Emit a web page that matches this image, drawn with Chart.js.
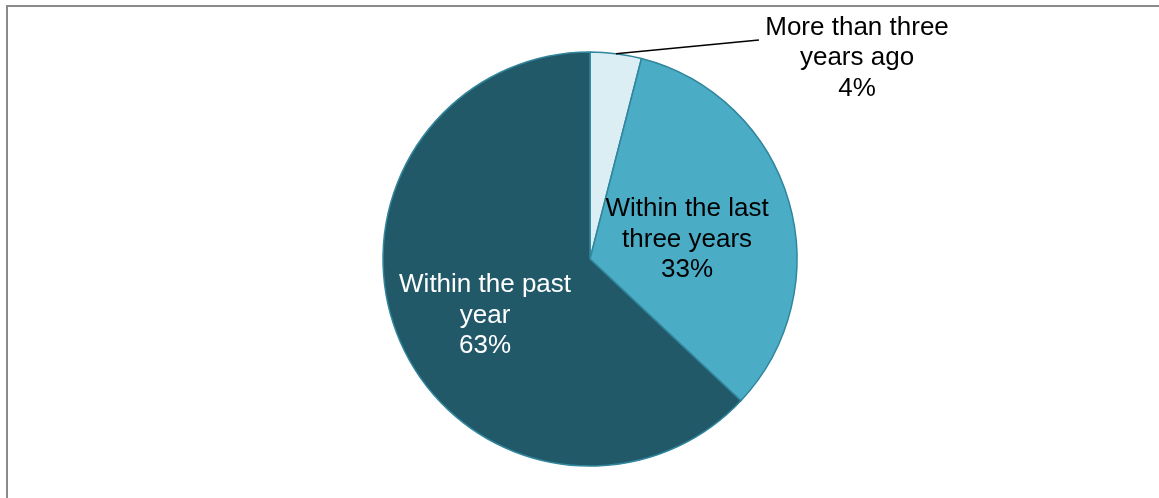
<!DOCTYPE html>
<html>
<head>
<meta charset="utf-8">
<title>When last visited</title>
<script src="https://cdn.jsdelivr.net/npm/chart.js@4/dist/chart.umd.min.js"></script>
<style>
  html, body { margin: 0; padding: 0; background: #fff; overflow: hidden; }
  canvas { display: block; }
</style>
</head>
<body>
<canvas id="pie" width="1159" height="498"></canvas>
<script>
// slices, clockwise from 12 o'clock
const categories = ["More than three years ago", "Within the last three years", "Within the past year"];
const percents = [4, 33, 63];
const labelLines = [
  ["More than three", "years ago"],
  ["Within the last", "three years"],
  ["Within the past", "year"]
];
const sliceColors = ["#DBEEF4", "#4BACC6", "#215968"];
const textColors = ["#000000", "#000000", "#FFFFFF"];
// label anchor (middle line baseline) as a fraction of the radius from the centre
const labelOffsets = [[1.29, -0.937], [0.469, -0.058], [-0.507, 0.309]];

// thin grey frame along top and left
const framePlugin = {
  id: "frame",
  beforeDraw(chart) {
    const ctx = chart.ctx;
    ctx.save();
    ctx.fillStyle = "#8A8A8A";
    ctx.fillRect(6, 5, chart.width - 6, 2);
    ctx.fillRect(6, 5, 2, chart.height - 5);
    ctx.restore();
  }
};

// data labels, with a leader line for the small slice
const labelPlugin = {
  id: "sliceLabels",
  afterDatasetsDraw(chart) {
    const ctx = chart.ctx;
    const arcs = chart.getDatasetMeta(0).data;
    ctx.save();
    ctx.font = "26px 'Liberation Sans', Arial, sans-serif";
    ctx.textAlign = "center";
    ctx.textBaseline = "alphabetic";
    arcs.forEach((arc, i) => {
      const r = arc.outerRadius;
      const x = arc.x + labelOffsets[i][0] * r;
      const y = arc.y + labelOffsets[i][1] * r;
      const lines = labelLines[i].concat([percents[i] + "%"]);
      ctx.fillStyle = textColors[i];
      lines.forEach((t, k) => ctx.fillText(t, x, y + (k - 1) * 30.5));

      if (i === 0) {
        const mid = (arc.startAngle + arc.endAngle) / 2;
        ctx.beginPath();
        ctx.moveTo(arc.x + Math.cos(mid) * r, arc.y + Math.sin(mid) * r);
        ctx.lineTo(arc.x + 0.816 * r, arc.y - 1.058 * r);
        ctx.strokeStyle = "#000";
        ctx.lineWidth = 1.5;
        ctx.stroke();
      }
    });
    ctx.restore();
  }
};

new Chart(document.getElementById("pie"), {
  type: "pie",
  data: {
    labels: categories,
    datasets: [{
      data: percents,
      backgroundColor: sliceColors,
      borderColor: "#31859C",
      borderWidth: 1.5,
      hoverOffset: 0
    }]
  },
  options: {
    responsive: false,
    animation: false,
    events: [],
    radius: 207,
    layout: { padding: { top: 52, bottom: 32, left: 21, right: 0 } },
    plugins: {
      legend: { display: false },
      tooltip: { enabled: false }
    }
  },
  plugins: [framePlugin, labelPlugin]
});
</script>
</body>
</html>
